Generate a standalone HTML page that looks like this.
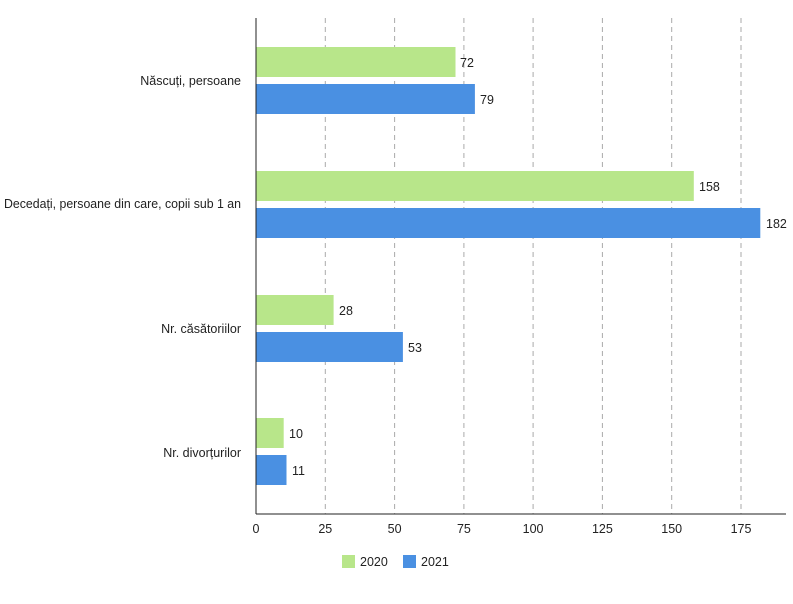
<!DOCTYPE html>
<html><head><meta charset="utf-8"><style>
body{margin:0;background:#fff;}
svg text{font-family:"Liberation Sans",sans-serif;font-size:12.5px;fill:#222;}
</style></head><body>
<svg width="793" height="599" xmlns="http://www.w3.org/2000/svg">
<g stroke="#aaa" stroke-dasharray="5,4" stroke-width="1">
<line x1="325.3" y1="18" x2="325.3" y2="514"/>
<line x1="394.6" y1="18" x2="394.6" y2="514"/>
<line x1="463.9" y1="18" x2="463.9" y2="514"/>
<line x1="533.1" y1="18" x2="533.1" y2="514"/>
<line x1="602.4" y1="18" x2="602.4" y2="514"/>
<line x1="671.7" y1="18" x2="671.7" y2="514"/>
<line x1="741" y1="18" x2="741" y2="514"/>
</g>
<g>
<rect x="256" y="47" width="199.5" height="30" fill="#b8e68a"/>
<rect x="256" y="84" width="218.9" height="30" fill="#4a90e2"/>
<rect x="256" y="171" width="437.8" height="30" fill="#b8e68a"/>
<rect x="256" y="208" width="504.3" height="30" fill="#4a90e2"/>
<rect x="256" y="295" width="77.6" height="30" fill="#b8e68a"/>
<rect x="256" y="332" width="146.9" height="30" fill="#4a90e2"/>
<rect x="256" y="418" width="27.7" height="30" fill="#b8e68a"/>
<rect x="256" y="455" width="30.5" height="30" fill="#4a90e2"/>
</g>
<text x="460" y="67">72</text>
<text x="480" y="104">79</text>
<text x="699" y="191">158</text>
<text x="766" y="228">182</text>
<text x="339" y="315">28</text>
<text x="408" y="352">53</text>
<text x="289" y="438">10</text>
<text x="292" y="475">11</text>
<g text-anchor="end">
<text x="241" y="85">Născuți, persoane</text>
<text x="241" y="208" textLength="237" lengthAdjust="spacingAndGlyphs">Decedați, persoane din care, copii sub 1 an</text>
<text x="241" y="333">Nr. căsătoriilor</text>
<text x="241" y="457">Nr. divorțurilor</text>
</g>
<line x1="256" y1="18" x2="256" y2="514" stroke="#222"/>
<line x1="256" y1="514" x2="786" y2="514" stroke="#222"/>
<g text-anchor="middle">
<text x="256" y="533">0</text><text x="325.3" y="533">25</text><text x="394.6" y="533">50</text>
<text x="463.9" y="533">75</text><text x="533.1" y="533">100</text><text x="602.4" y="533">125</text>
<text x="671.7" y="533">150</text><text x="741" y="533">175</text>
</g>
<rect x="342" y="555" width="13" height="13" fill="#b8e68a"/>
<text x="360" y="566">2020</text>
<rect x="403" y="555" width="13" height="13" fill="#4a90e2"/>
<text x="421" y="566">2021</text>
</svg>
</body></html>
